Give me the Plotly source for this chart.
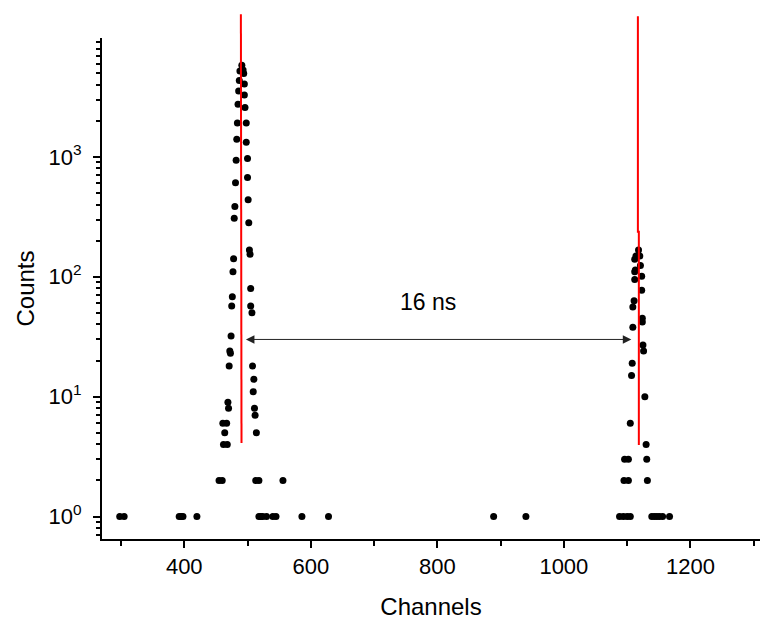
import numpy as np
import plotly.graph_objects as go

# ---- data ----
channels = [
    298, 305, 392, 395, 398, 420,
    455, 460, 461, 462, 464, 467, 468, 469, 470, 471, 472, 473, 474,
    475, 476, 477, 478, 479, 480, 481, 482, 483, 484, 485, 486, 487, 488, 491, 493,
    494, 495, 495, 496, 498, 498, 500, 500, 501, 502, 503, 504, 505, 505, 507,
    508, 509, 510, 511, 512, 513, 514, 518, 556,
    518, 521, 524, 530, 540, 545, 586, 628,
    889, 940,
    1088, 1094, 1100, 1105,
    1095, 1102, 1096, 1102, 1105, 1107, 1108, 1109, 1109, 1111, 1112, 1112, 1112,
    1113, 1114, 1118, 1120, 1121, 1123, 1123, 1124, 1124, 1125, 1126, 1128,
    1130, 1131, 1132,
    1139, 1143, 1147, 1151, 1156, 1167,
]
counts = [
    1, 1, 1, 1, 1, 1,
    2, 2, 6, 4, 5, 6, 4, 9, 8, 18, 24, 23, 32,
    57, 68, 110, 141, 308, 386, 607, 939, 1404, 1920, 2748, 3548, 4333, 5210, 5808, 5300,
    4955, 4058, 3286, 2580, 1920, 1326, 970, 673, 438, 282, 167, 154, 80, 57, 50,
    18, 11, 14, 8, 7, 2, 5, 2, 2,
    1, 1, 1, 1, 1, 1, 1, 1,
    1, 1,
    1, 1, 1, 1,
    2, 2, 3, 3, 6, 15, 19, 38, 56, 63, 95, 110, 140,
    114, 149, 167, 149, 124, 77, 101, 42, 45, 27, 24, 10,
    4, 3, 2,
    1, 1, 1, 1, 1, 1,
]

# red fit lines (channel, counts), one polyline per peak, separated by None
fit_x = [489.5, 489.5, 490.5, 490.5, None, 1117, 1117, 1118.5, 1118.5]
fit_y = [15500, 250, 250, 4.1, None, 14900, 237, 237, 3.96]

arrow_y = 30
arrow_x = [497.5, 1109]
label_text = "16 ns"
label_pos = (785, 62)

x_range = [270, 1310]
y_range = [0.65, 9800]
x_major = [400, 600, 800, 1000, 1200]
x_minor = [300, 500, 700, 900, 1100, 1300]
y_major = [1, 10, 100, 1000]
y_major_text = ["10<sup>0</sup>", "10<sup>1</sup>", "10<sup>2</sup>", "10<sup>3</sup>"]
y_minor = [0.7, 0.8, 0.9] + [m * d for d in (1, 10, 100, 1000) for m in range(2, 10)]

FONT = "Arial, Liberation Sans, sans-serif"
W, H = 766, 622
MT, MB, ML, MR = 8, 83, 102, 6
Y_DOMAIN_TOP = 0.9435

lo, hi = np.log10(y_range[0]), np.log10(y_range[1])
lo2, hi2 = lo, lo + (hi - lo) / Y_DOMAIN_TOP

fig = go.Figure()
# invisible anchor trace for the visible y axis
fig.add_trace(go.Scatter(x=[None], y=[None], xaxis="x", yaxis="y", showlegend=False))
fig.add_trace(go.Scatter(
    x=channels, y=counts, mode="markers",
    marker=dict(color="black", size=7, line=dict(width=0)),
    xaxis="x", yaxis="y2", hoverinfo="skip",
))
fig.add_trace(go.Scatter(
    x=fit_x, y=fit_y, mode="lines",
    line=dict(color="#ff0000", width=2),
    xaxis="x", yaxis="y2", hoverinfo="skip", connectgaps=False,
))

fig.add_annotation(
    x=arrow_x[0], y=np.log10(arrow_y), ax=arrow_x[1], ay=np.log10(arrow_y),
    xref="x", yref="y", axref="x", ayref="y",
    showarrow=True, arrowhead=2, startarrowhead=2, arrowside="end+start",
    arrowsize=1.7, startarrowsize=1.7, arrowwidth=1, arrowcolor="#222222",
    text="", standoff=0, startstandoff=0,
)
fig.add_annotation(
    x=label_pos[0], y=np.log10(label_pos[1]), xref="x", yref="y",
    text=label_text, showarrow=False,
    font=dict(family=FONT, size=23, color="black"),
)

fig.update_layout(
    width=W, height=H,
    margin=dict(l=ML, r=MR, t=MT, b=MB),
    plot_bgcolor="rgba(0,0,0,0)", paper_bgcolor="white",
    showlegend=False,
    font=dict(family=FONT, color="black"),
    xaxis=dict(
        range=x_range, showgrid=False, zeroline=False,
        showline=True, linecolor="black", linewidth=2,
        ticks="outside", ticklen=7, tickwidth=2, tickcolor="black",
        tickvals=x_major, ticktext=[str(v) for v in x_major],
        tickfont=dict(family=FONT, size=22, color="black"),
        minor=dict(tickvals=x_minor, ticks="outside", ticklen=5, tickwidth=2, tickcolor="black"),
        title=dict(text="Channels", font=dict(family=FONT, size=24, color="black"), standoff=20),
        anchor="y",
    ),
    yaxis=dict(
        type="log", range=[lo, hi], domain=[0, Y_DOMAIN_TOP],
        showgrid=False, zeroline=False,
        showline=True, linecolor="black", linewidth=2,
        ticks="outside", ticklen=7, tickwidth=2, tickcolor="black",
        tickvals=y_major, ticktext=y_major_text,
        tickfont=dict(family=FONT, size=22, color="black"),
        ticklabelstandoff=7,
        minor=dict(tickvals=y_minor, ticks="outside", ticklen=4, tickwidth=2, tickcolor="black"),
        title=dict(text="Counts", font=dict(family=FONT, size=24, color="black"), standoff=7),
        anchor="x",
    ),
    yaxis2=dict(
        type="log", range=[lo2, hi2], domain=[0, 1], anchor="x",
        visible=False, showgrid=False, zeroline=False,
    ),
)

fig.write_html("out.html")
